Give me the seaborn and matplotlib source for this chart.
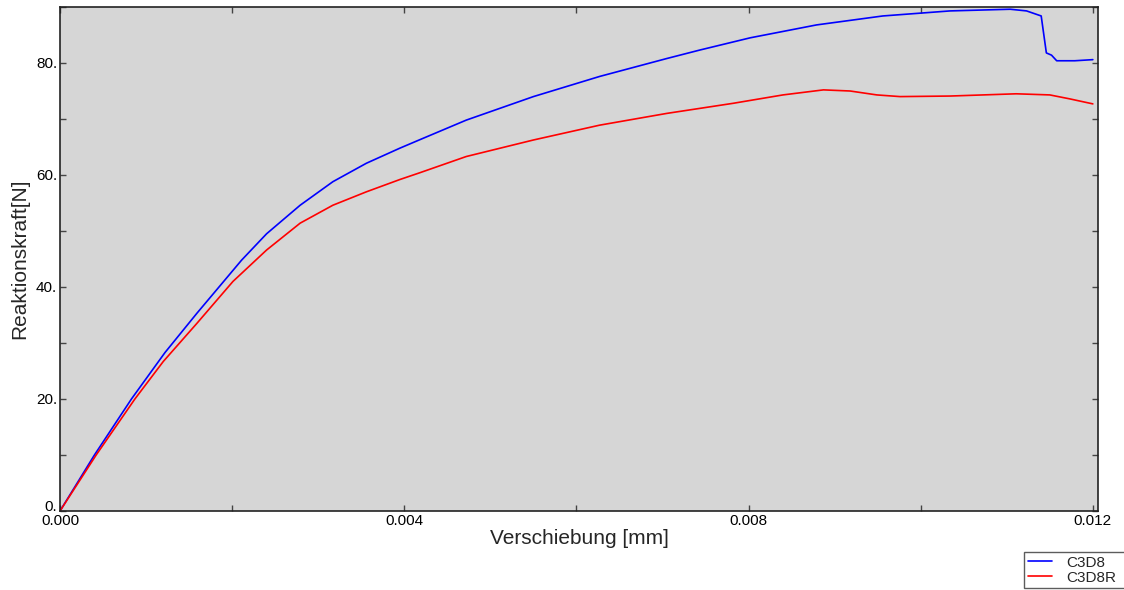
import numpy as np
import pandas as pd
import matplotlib
matplotlib.use("Agg")
import matplotlib.pyplot as plt
import seaborn as sns
from matplotlib.ticker import MultipleLocator, FuncFormatter

# --- data ---
x_c3d8 = [0.0, 0.0004, 0.00083, 0.00122, 0.00159, 0.00211, 0.0024, 0.00279,
          0.00317, 0.00356, 0.00395, 0.00418, 0.00472, 0.0055, 0.00627, 0.00705, 0.00743,
          0.00802, 0.00879, 0.00956, 0.01034, 0.01104, 0.01123, 0.0114, 0.01146, 0.01152,
          0.01158, 0.01179, 0.012]
f_c3d8 = [0.0, 10.0, 20.0, 28.3, 35.3, 44.8, 49.5, 54.6,
          58.8, 62.1, 64.8, 66.3, 69.8, 74.0, 77.6, 80.8, 82.3,
          84.5, 86.8, 88.4, 89.3, 89.6, 89.3, 88.4, 81.8, 81.4,
          80.4, 80.4, 80.6]

x_c3d8r = [0.0, 0.00042, 0.00087, 0.0012, 0.00159, 0.00201, 0.0024, 0.00279,
           0.00317, 0.00356, 0.00395, 0.00418, 0.00472, 0.0055, 0.00627, 0.00705, 0.00782,
           0.0084, 0.00887, 0.00918, 0.00949, 0.00976, 0.01034, 0.01111, 0.0115, 0.01173, 0.012]
f_c3d8r = [0.0, 10.0, 20.0, 26.7, 33.5, 41.0, 46.6, 51.4,
           54.6, 57.0, 59.2, 60.4, 63.3, 66.25, 68.9, 71.0, 72.8,
           74.3, 75.2, 75.0, 74.3, 74.0, 74.1, 74.5, 74.3, 73.6, 72.7]

series_names = ["C3D8", "C3D8R"]
series_colors = ["#0000ff", "#ff0000"]

df = pd.concat([
    pd.DataFrame({"x": x_c3d8, "F": f_c3d8, "Serie": series_names[0]}),
    pd.DataFrame({"x": x_c3d8r, "F": f_c3d8r, "Serie": series_names[1]}),
], ignore_index=True)

sns.set_style("ticks")
plt.rcParams["font.family"] = ["Liberation Sans", "DejaVu Sans"]

fig = plt.figure(figsize=(11.24, 5.90), dpi=100)
ax = fig.add_axes([60/1124, 1-511/590, (1098-60)/1124, (511-7)/590])
ax.set_facecolor("#d6d6d6")

sns.lineplot(data=df, x="x", y="F", hue="Serie", palette=dict(zip(series_names, series_colors)),
             estimator=None, sort=False, linewidth=1.2, ax=ax, legend=False)

ax.set_xlim(0, 0.01206)
ax.set_ylim(0, 90)
ax.xaxis.set_major_locator(MultipleLocator(0.004))
ax.xaxis.set_minor_locator(MultipleLocator(0.002))
ax.yaxis.set_major_locator(MultipleLocator(20))
ax.yaxis.set_minor_locator(MultipleLocator(10))
ax.xaxis.set_major_formatter(FuncFormatter(lambda v, p: f"{v:.3f}"))
ax.yaxis.set_major_formatter(FuncFormatter(lambda v, p: f"{int(round(v))}."))
ax.tick_params(which="both", direction="in", top=True, right=True, colors="#444444",
               labelcolor="black", labelsize=11, width=1)
ax.tick_params(which="major", length=4, pad=2)
ax.tick_params(which="minor", length=4)
for s in ax.spines.values():
    s.set_color("#222222")
    s.set_linewidth(1.2)

ax.set_xlabel("Verschiebung [mm]", fontsize=15, labelpad=1)
ax.set_ylabel("Reaktionskraft[N]", fontsize=15, labelpad=5)

# lift the "0." label above the x-axis like the reference
fig.canvas.draw()
for t in ax.yaxis.get_major_ticks():
    if abs(t.get_loc()) < 1e-9:
        t.label1.set_va("baseline")

handles = [plt.Line2D([], [], color=c, lw=1.2) for c in series_colors]
leg = fig.legend(handles, series_names, loc="upper left", mode="expand",
                 bbox_to_anchor=(1024/1124, 1-592/590, 104/1124, 40/590), fontsize=11,
                 frameon=True, fancybox=False, borderpad=0.25, handlelength=1.6,
                 handletextpad=0.9, labelspacing=0.05, borderaxespad=0)
leg.get_frame().set_edgecolor("#333333")
leg.get_frame().set_linewidth(1.0)

fig.savefig("out.png", dpi=100, facecolor="white")
